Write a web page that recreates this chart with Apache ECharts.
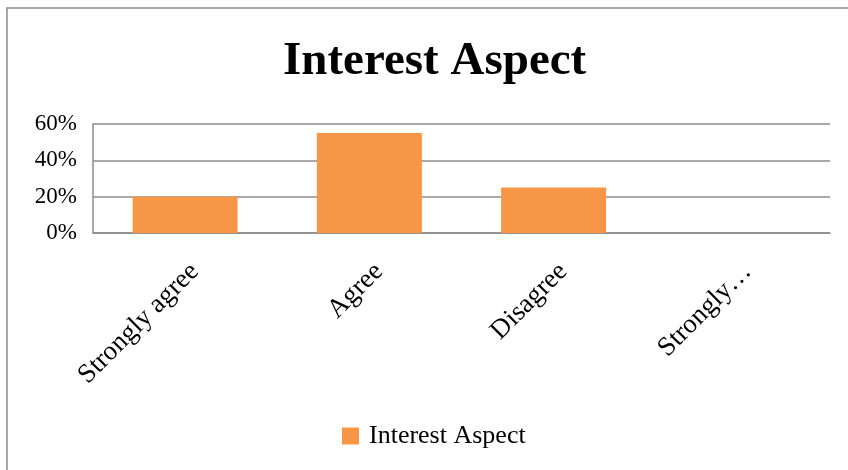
<!DOCTYPE html>
<html>
<head>
<meta charset="utf-8">
<script src="https://cdn.jsdelivr.net/npm/echarts@6/dist/echarts.min.js"></script>
<style>
html,body{margin:0;padding:0;background:#fff;}
#c{width:848px;height:470px;}
</style>
</head>
<body>
<div id="c"></div>
<script>
const titleText = 'Interest Aspect';
const seriesName = 'Interest Aspect';
const categories = ['Strongly agree', 'Agree', 'Disagree', 'Strongly disagree'];
const tickLabels = ['Strongly agree', 'Agree', 'Disagree', 'Strongly…'];
const values = [20, 55, 25, 0];
const yTicks = [0, 20, 40, 60];

const FONT = '"Liberation Serif", "Times New Roman", serif';
const chart = echarts.init(document.getElementById('c'));
chart.setOption({
  backgroundColor: '#fff',
  animation: false,
  graphic: [{
    type: 'rect',
    shape: { x: 7, y: 8, width: 900, height: 500 },
    style: { fill: 'none', stroke: '#8c8c8c', lineWidth: 1.5 },
    silent: true
  }],
  title: {
    text: titleText,
    left: 278,
    top: 33,
    textStyle: { fontFamily: FONT, fontWeight: 'bold', fontSize: 47, color: '#000' }
  },
  legend: {
    data: [seriesName],
    left: 337,
    top: 418,
    itemWidth: 17,
    itemHeight: 17,
    icon: 'rect',
    textStyle: { fontFamily: FONT, fontSize: 26, color: '#000', padding: [0, 0, 0, 5] }
  },
  grid: { left: 93, right: 18, top: 124, bottom: 237, containLabel: false },
  xAxis: {
    type: 'category',
    data: categories,
    axisLine: { show: true, lineStyle: { color: '#8c8c8c', width: 1.5 } },
    axisTick: { show: false },
    axisLabel: {
      interval: 0,
      rotate: 45,
      margin: 25,
      verticalAlign: 'top',
      fontFamily: FONT,
      fontSize: 27,
      color: '#000',
      formatter: function (v, i) { return tickLabels[i]; }
    }
  },
  yAxis: {
    type: 'value',
    min: yTicks[0],
    max: yTicks[yTicks.length - 1],
    interval: 20,
    axisLine: { show: true, lineStyle: { color: '#8c8c8c', width: 1.5 } },
    axisTick: { show: false },
    splitLine: { show: true, lineStyle: { color: '#8c8c8c', width: 1.5 } },
    axisLabel: {
      margin: 16,
      fontFamily: FONT,
      fontSize: 23,
      color: '#000',
      formatter: '{value}%'
    }
  },
  series: [{
    name: seriesName,
    type: 'bar',
    data: values,
    barWidth: 105,
    itemStyle: { color: '#F79646' }
  }]
});
</script>
</body>
</html>
